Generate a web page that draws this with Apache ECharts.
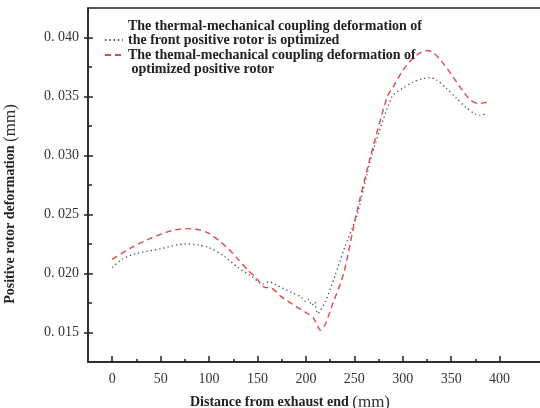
<!DOCTYPE html>
<html>
<head>
<meta charset="utf-8">
<script src="https://cdn.jsdelivr.net/npm/echarts@6/dist/echarts.min.js"></script>
<style>
html,body{margin:0;padding:0;background:#fff;}
#c{width:540px;height:408px;}
</style>
</head>
<body>
<div id="c"></div>
<script>
// Data
var seriesNames = [
  'The thermal-mechanical coupling deformation of\nthe front positive rotor is optimized',
  'The themal-mechanical coupling deformation of\n optimized positive rotor'
];
var xDot = [0, 10, 25, 50, 75, 90, 100, 115, 130, 145, 155, 162, 170, 185, 195, 200, 203, 206, 209, 212, 220, 230, 240, 253, 268, 289, 300, 310, 320, 328, 335, 345, 355, 365, 375, 380, 387];
var yDot = [0.0205, 0.0212, 0.0217, 0.0221, 0.0225, 0.0224, 0.0222, 0.0215, 0.0205, 0.0197, 0.0191, 0.0193, 0.0190, 0.0184, 0.0180, 0.0176, 0.0178, 0.0173, 0.0176, 0.0166, 0.0176, 0.0198, 0.0222, 0.0250, 0.0300, 0.0350, 0.0357, 0.0362, 0.0365, 0.0366, 0.0364, 0.0357, 0.0349, 0.0341, 0.0335, 0.0334, 0.0336];
var xRed = [0, 20, 40, 60, 75, 90, 100, 110, 120, 130, 140, 150, 158, 163, 175, 190, 200, 208, 215, 220, 228, 239, 252, 267, 284, 290, 300, 310, 318, 325, 332, 340, 350, 360, 370, 378, 387];
var yRed = [0.0212, 0.0222, 0.0230, 0.0236, 0.0238, 0.0237, 0.0234, 0.0228, 0.0221, 0.0212, 0.0203, 0.0195, 0.0188, 0.0188, 0.0180, 0.0172, 0.0167, 0.0162, 0.0152, 0.0157, 0.0175, 0.0200, 0.0250, 0.0300, 0.0350, 0.0358, 0.0372, 0.0382, 0.0387, 0.0389, 0.0387, 0.0380, 0.0369, 0.0357, 0.0347, 0.0344, 0.0345];
var xTicks = [0, 50, 100, 150, 200, 250, 300, 350, 400];
var xMinorTicks = [25, 75, 125, 175, 225, 275, 325, 375];
var yTicks = [0.015, 0.020, 0.025, 0.030, 0.035, 0.040];
var yMinorTicks = [0.0175, 0.0225, 0.0275, 0.0325, 0.0375];

function pairs(xs, ys) { return xs.map(function (x, i) { return [x, ys[i]]; }); }

var serif = '"Liberation Serif", "DejaVu Serif", serif';
var chart = echarts.init(document.getElementById('c'), null, { renderer: 'canvas' });

var baseX = { type: 'value', min: -25, max: 450, gridIndex: 0, splitLine: { show: false } };
var baseY = { type: 'value', min: 0.0125, max: 0.0425, gridIndex: 0, splitLine: { show: false } };

chart.setOption({
  backgroundColor: '#ffffff',
  animation: false,
  grid: { left: 88, top: 8, right: -8, bottom: 46, outerBoundsMode: 'none', containLabel: false, show: true, borderColor: '#222', borderWidth: 1.5, backgroundColor: 'transparent' },
  legend: {
    orient: 'vertical', left: 99, top: 14, itemWidth: 18, itemHeight: 10, itemGap: -27,
    data: seriesNames,
    itemStyle: { opacity: 0 },
    formatter: function (name) {
      var parts = name.split('\n');
      if (name === seriesNames[0]) return '{t|' + parts[0] + '}\n{t|' + parts[1] + '}\n{t| }';
      return '{t| }\n{t|' + parts[0] + '}\n{t|' + parts[1] + '}';
    },
    textStyle: { rich: { t: { fontFamily: serif, fontWeight: 'bold', fontSize: 14, lineHeight: 14, color: '#222' } } }
  },
  xAxis: [
    Object.assign({}, baseX, {
      position: 'bottom',
      name: '{a|Distance from exhaust end }{b|(mm)}',
      nameLocation: 'middle', nameGap: 32,
      nameTextStyle: { padding: [0, 56, 0, 0], rich: { a: { fontFamily: serif, fontWeight: 'bold', fontSize: 14, color: '#222' }, b: { fontFamily: serif, fontSize: 17, color: '#333' } } },
      axisLine: { show: true, onZero: false, lineStyle: { color: '#222', width: 1.5 } },
      axisTick: { show: true, inside: true, length: 6, customValues: xTicks, lineStyle: { color: '#222', width: 1.5 } },
      axisLabel: { show: true, customValues: xTicks, fontFamily: serif, fontSize: 14, color: '#333', margin: 10 }
    }),
    Object.assign({}, baseX, {
      position: 'bottom',
      axisLine: { show: false, onZero: false },
      axisTick: { show: true, inside: true, length: 3, customValues: xMinorTicks, lineStyle: { color: '#222', width: 1.5 } },
      axisLabel: { show: false }
    })
  ],
  yAxis: [
    Object.assign({}, baseY, {
      position: 'left',
      name: '{a|Positive rotor deformation }{b|(mm)}',
      nameLocation: 'middle', nameGap: 69, nameRotate: 90,
      nameTextStyle: { padding: [0, 38, 0, 0], rich: { a: { fontFamily: serif, fontWeight: 'bold', fontSize: 14, color: '#222' }, b: { fontFamily: serif, fontSize: 17, color: '#333' } } },
      axisLine: { show: true, onZero: false, lineStyle: { color: '#222', width: 1.5 } },
      axisTick: { show: true, inside: true, length: 5, customValues: yTicks, lineStyle: { color: '#222', width: 1.5 } },
      axisLabel: {
        show: true, customValues: yTicks, fontFamily: serif, fontSize: 14, color: '#333', margin: 9,
        formatter: function (v) { return '0. ' + v.toFixed(3).slice(2); }
      }
    }),
    Object.assign({}, baseY, {
      position: 'left',
      axisLine: { show: false, onZero: false },
      axisTick: { show: true, inside: false, length: 4, customValues: yTicks, lineStyle: { color: '#222', width: 1.5 } },
      axisLabel: { show: false }
    }),
    Object.assign({}, baseY, {
      position: 'left',
      axisLine: { show: false, onZero: false },
      axisTick: { show: true, inside: true, length: 4, customValues: yMinorTicks, lineStyle: { color: '#222', width: 1.5 } },
      axisLabel: { show: false }
    })
  ],
  series: [
    {
      name: seriesNames[0], type: 'line', xAxisIndex: 0, yAxisIndex: 0,
      data: pairs(xDot, yDot), showSymbol: false, symbol: 'none', smooth: 0.25,
      lineStyle: { color: '#4a4f5a', width: 1.3, type: [1.3, 3] },
      itemStyle: { color: '#4a4f5a' }
    },
    {
      name: seriesNames[1], type: 'line', xAxisIndex: 0, yAxisIndex: 0,
      data: pairs(xRed, yRed), showSymbol: false, symbol: 'none', smooth: 0.25,
      lineStyle: { color: '#e0464b', width: 1.4, type: [6, 4] },
      itemStyle: { color: '#e0464b' }
    }
  ]
});
</script>
</body>
</html>
